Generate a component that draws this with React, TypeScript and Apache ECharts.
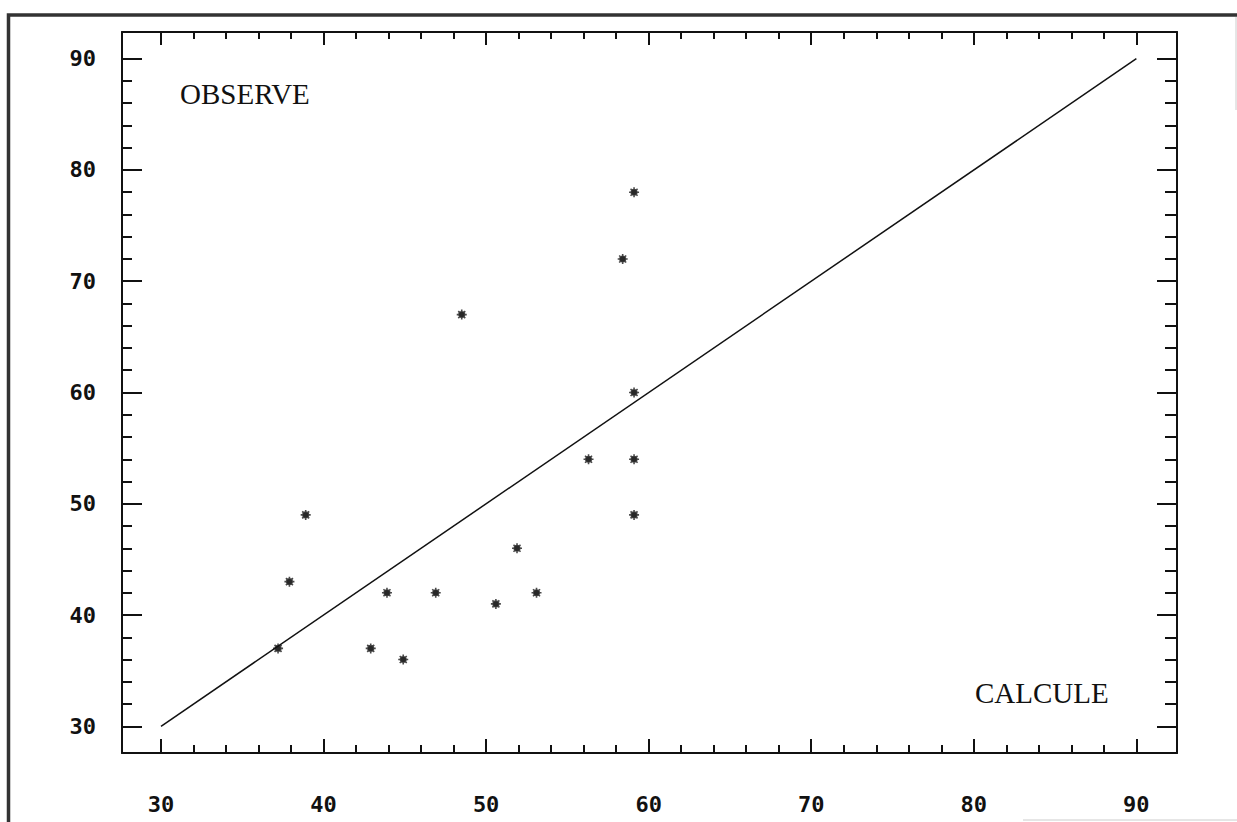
import React, { useEffect, useRef } from "react";
import * as echarts from "echarts";

// ---- data ----
const calcule: number[] = [37.2, 37.9, 38.9, 42.9, 43.9, 44.9, 46.9, 48.5, 50.6, 51.9, 53.1, 56.3, 58.4, 59.1, 59.1, 59.1, 59.1];
const observe: number[] = [37, 43, 49, 37, 42, 36, 42, 67, 41, 46, 42, 54, 72, 78, 60, 54, 49];
const diagonalX: number[] = [30, 90];
const diagonalY: number[] = [30, 90];
const majorTicks: number[] = [30, 40, 50, 60, 70, 80, 90];
const minorTicks: number[] = [32, 34, 36, 38, 42, 44, 46, 48, 52, 54, 56, 58, 62, 64, 66, 68, 72, 74, 76, 78, 82, 84, 86, 88];
const xLabel = "CALCULE";
const yLabel = "OBSERVE";

const X_MIN = 27.6;
const X_MAX = 92.5;
const Y_MIN = 27.6;
const Y_MAX = 92.4;

const INK = "#111";

function mkAxis(
  kind: "x" | "y",
  position: string,
  values: number[],
  length: number,
  showLine: boolean,
  showLabel: boolean
) {
  return {
    type: "value",
    gridIndex: 0,
    position,
    min: kind === "x" ? X_MIN : Y_MIN,
    max: kind === "x" ? X_MAX : Y_MAX,
    axisLine: { show: showLine, onZero: false, lineStyle: { color: INK, width: 2 } },
    splitLine: { show: false },
    axisTick: {
      show: true,
      inside: true,
      length,
      customValues: values,
      lineStyle: { color: INK, width: 2 },
    },
    axisLabel: {
      show: showLabel,
      customValues: majorTicks,
      margin: kind === "x" ? 40 : 26,
      fontFamily: "DejaVu Sans Mono",
      fontWeight: "bold",
      fontSize: 22,
      color: INK,
    },
  };
}

export default function App() {
  const ref = useRef<HTMLDivElement>(null);

  useEffect(() => {
    if (!ref.current) return;
    const chart = echarts.init(ref.current, null, { renderer: "svg" });
    const points = calcule.map((c, i) => [c, observe[i]]);
    const diag = diagonalX.map((x, i) => [x, diagonalY[i]]);
    const asterisk =
      "path://M4,0L4,8M0,4L8,4M1.2,1.2L6.8,6.8M6.8,1.2L1.2,6.8M1.8,4a2.2,2.2 0 1,0 4.4,0a2.2,2.2 0 1,0 -4.4,0";

    chart.setOption({
      animation: false,
      backgroundColor: "#fff",
      grid: { left: 122, right: 60, top: 32, bottom: 69, containLabel: false },
      xAxis: [
        mkAxis("x", "bottom", majorTicks, 14, true, true),
        mkAxis("x", "bottom", minorTicks, 8, false, false),
        mkAxis("x", "top", majorTicks, 13, true, false),
        mkAxis("x", "top", minorTicks, 7, false, false),
      ],
      yAxis: [
        mkAxis("y", "left", majorTicks, 20, true, true),
        mkAxis("y", "left", minorTicks, 10, false, false),
        mkAxis("y", "right", majorTicks, 20, true, false),
        mkAxis("y", "right", minorTicks, 12, false, false),
      ],
      series: [
        {
          type: "line",
          xAxisIndex: 0,
          yAxisIndex: 0,
          data: diag,
          showSymbol: false,
          lineStyle: { color: INK, width: 1.5 },
          silent: true,
        },
        {
          type: "scatter",
          xAxisIndex: 0,
          yAxisIndex: 0,
          data: points,
          symbol: asterisk,
          symbolSize: 10,
          itemStyle: { color: "#3a3a3a", borderColor: "#1a1a1a", borderWidth: 1.6 },
        },
      ],
      graphic: [
        {
          type: "text",
          left: 180,
          top: 79,
          style: {
            text: yLabel,
            fontFamily: "Liberation Serif",
            fontSize: 29,
            fill: INK,
          },
        },
        {
          type: "text",
          left: 975,
          top: 678,
          style: {
            text: xLabel,
            fontFamily: "Liberation Serif",
            fontSize: 29,
            fill: INK,
          },
        },
        {
          type: "polyline",
          shape: { points: [[8.5, 822], [8.5, 15], [1237, 15]] },
          style: { stroke: "#333", lineWidth: 3.5, fill: null },
        },
        {
          type: "line",
          shape: { x1: 1236, y1: 17, x2: 1236, y2: 110 },
          style: { stroke: "#ccc", lineWidth: 1 },
        },
        {
          type: "line",
          shape: { x1: 1023, y1: 820, x2: 1237, y2: 820 },
          style: { stroke: "#ccc", lineWidth: 1 },
        },
      ],
    });

    return () => chart.dispose();
  }, []);

  return (
    <div
      ref={ref}
      style={{ position: "fixed", left: 0, top: 0, width: 1237, height: 822, background: "#fff" }}
    />
  );
}
